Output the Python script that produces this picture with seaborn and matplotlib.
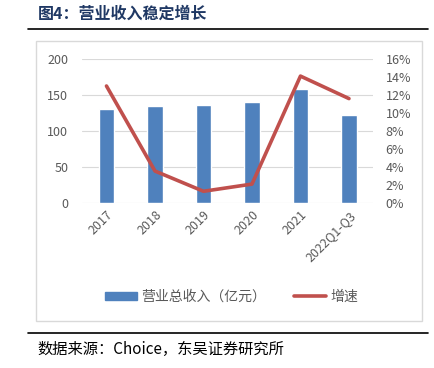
import matplotlib
matplotlib.use("Agg")
import matplotlib.pyplot as plt
import matplotlib.patches as mpatches
from matplotlib.lines import Line2D
from matplotlib.ticker import PercentFormatter
import seaborn as sns
import numpy as np

# data
categories = ["2017", "2018", "2019", "2020", "2021", "2022Q1-Q3"]
revenue = [130, 135, 136.5, 140, 159, 122]        # 营业总收入（亿元）
growth = [13.0, 3.55, 1.3, 2.1, 14.1, 11.6]        # 增速 (%)

BAR_C = "#4F81BD"
LINE_C = "#C0504D"
TICK_C = "#595959"

sns.set_theme(style="white")
plt.rcParams["font.family"] = ["Noto Sans CJK SC", "DejaVu Sans"]

fig = plt.figure(figsize=(4.35, 3.68), dpi=100)
ax = fig.add_axes([0.189, 0.4484, 0.669, 0.3913])

# bars
sns.barplot(x=categories, y=revenue, color=BAR_C, width=0.32, saturation=1, ax=ax)
ax.set_ylim(0, 200)
ax.set_yticks([0, 50, 100, 150, 200])
ax.set_xlim(-0.5, len(categories) - 0.5)
ax.yaxis.grid(True, color="#D9D9D9", linewidth=0.8)
ax.set_axisbelow(True)
for s in ax.spines.values():
    s.set_visible(False)
ax.tick_params(axis="y", colors=TICK_C, labelsize=9, length=0, pad=10)
ax.tick_params(axis="x", colors=TICK_C, labelsize=9, length=0, pad=4)
plt.setp(ax.get_xticklabels(), rotation=45, ha="right", rotation_mode="anchor")
ax.set_xlabel("")
ax.set_ylabel("")

# growth line on right axis
ax2 = ax.twinx()
sns.lineplot(x=np.arange(len(categories)), y=growth, color=LINE_C, linewidth=2.6, ax=ax2)
ax2.set_ylim(0, 16)
ax2.set_yticks(range(0, 17, 2))
ax2.yaxis.set_major_formatter(PercentFormatter(decimals=0))
ax2.set_xlim(-0.5, len(categories) - 0.5)
for s in ax2.spines.values():
    s.set_visible(False)
ax2.tick_params(axis="y", colors=TICK_C, labelsize=9, length=0, pad=9)
ax2.set_ylabel("")

# legend
handles = [mpatches.Patch(color=BAR_C), Line2D([0], [0], color=LINE_C, linewidth=2.6)]
fig.legend(handles, ["营业总收入（亿元）", "增速"], loc="center", bbox_to_anchor=(0.532, 0.193),
           ncol=2, frameon=False, fontsize=10, labelcolor=TICK_C,
           handlelength=2.3, handleheight=0.6, columnspacing=2.0, handletextpad=0.3)

# chart frame
fig.patches.append(mpatches.Rectangle((36 / 435, 1 - 321 / 368), 386 / 435, 280 / 368,
                                      transform=fig.transFigure, fill=False,
                                      edgecolor="#D9D9D9", linewidth=1))

# title, rules and source
fig.text(38 / 435, 1 - 14 / 368, "图4：营业收入稳定增长", fontsize=11.5, fontweight="bold",
         color="#1F3864", va="center", ha="left")
fig.add_artist(Line2D([28 / 435, 428 / 435], [1 - 29 / 368, 1 - 29 / 368],
                      transform=fig.transFigure, color="black", linewidth=1.2))
fig.add_artist(Line2D([28 / 435, 428 / 435], [1 - 333 / 368, 1 - 333 / 368],
                      transform=fig.transFigure, color="black", linewidth=1.2))
fig.text(37 / 435, 1 - 349 / 368, "数据来源：Choice，东吴证券研究所", fontsize=11,
         color="black", va="center", ha="left")

fig.savefig("out.png", dpi=100)
